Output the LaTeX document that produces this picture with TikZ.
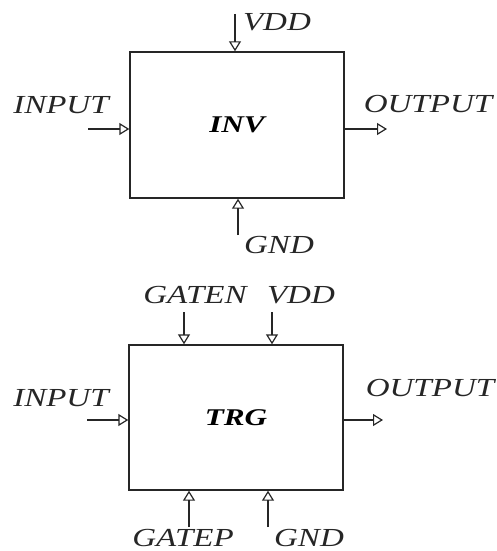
\documentclass[tikz,border=0pt]{standalone}
\usepackage{fontspec}
\setmainfont{Liberation Serif}
\usetikzlibrary{arrows.meta}
\newcommand{\lbltext}[1]{\scalebox{1.27}[1]{\fontsize{26}{30}\selectfont\itshape #1}}
\newcommand{\titletext}[1]{\scalebox{1.3}[1]{\fontsize{24}{28}\selectfont\bfseries\itshape #1}}
\tikzset{
  blockbox/.style={draw=black!85, line width=1.4pt, minimum width=214pt, minimum height=146pt, inner sep=0pt},
  pin/.style={draw=black!85, line width=1.3pt, -{Triangle[open,length=10pt,width=12pt,line width=1.2pt]}},
  lbl/.style={inner sep=0pt, text=black!85},
}
\begin{document}
\begin{tikzpicture}[x=1pt, y=-1pt]
\useasboundingbox (0,0) rectangle (496,551);
% ---------- INV ----------
\node[blockbox] (inv) at (237,125) {\titletext{INV}};
\coordinate (invvdd) at (235,14);
\coordinate (invin) at (88,129);
\coordinate (invoutend) at (387,129);
\coordinate (invgnd) at (238,235);
\draw[pin] (invvdd) -- (invvdd |- inv.north);
\draw[pin] (invin) -- (invin -| inv.west);
\draw[pin] (invoutend -| inv.east) -- (invoutend);
\draw[pin] (invgnd) -- (invgnd |- inv.south);
\node[lbl] (invvddl) at (277,22) {\lbltext{VDD}};
\node[lbl] (invinl) at (61,105) {\lbltext{INPUT}};
\node[lbl] (invoutl) at (428,104) {\lbltext{OUTPUT}};
\node[lbl] (invgndl) at (279,245) {\lbltext{GND}};
% ---------- TRG ----------
\node[blockbox, minimum height=145pt] (trg) at (236,417.5) {\titletext{TRG}};
\coordinate (trggaten) at (184,312);
\coordinate (trgvdd) at (272,312);
\coordinate (trgin) at (87,420);
\coordinate (trgoutend) at (383,420);
\coordinate (trggatep) at (189,527);
\coordinate (trggnd) at (268,527);
\draw[pin] (trggaten) -- (trggaten |- trg.north);
\draw[pin] (trgvdd) -- (trgvdd |- trg.north);
\draw[pin] (trgin) -- (trgin -| trg.west);
\draw[pin] (trgoutend -| trg.east) -- (trgoutend);
\draw[pin] (trggatep) -- (trggatep |- trg.south);
\draw[pin] (trggnd) -- (trggnd |- trg.south);
\node[lbl] (trggatenl) at (195,295) {\lbltext{GATEN}};
\node[lbl] (trgvddl) at (301,295) {\lbltext{VDD}};
\node[lbl] (trginl) at (61,398) {\lbltext{INPUT}};
\node[lbl] (trgoutl) at (430,388) {\lbltext{OUTPUT}};
\node[lbl] (trggatepl) at (183,538) {\lbltext{GATEP}};
\node[lbl] (trggndl) at (309,538) {\lbltext{GND}};
\end{tikzpicture}
\end{document}
